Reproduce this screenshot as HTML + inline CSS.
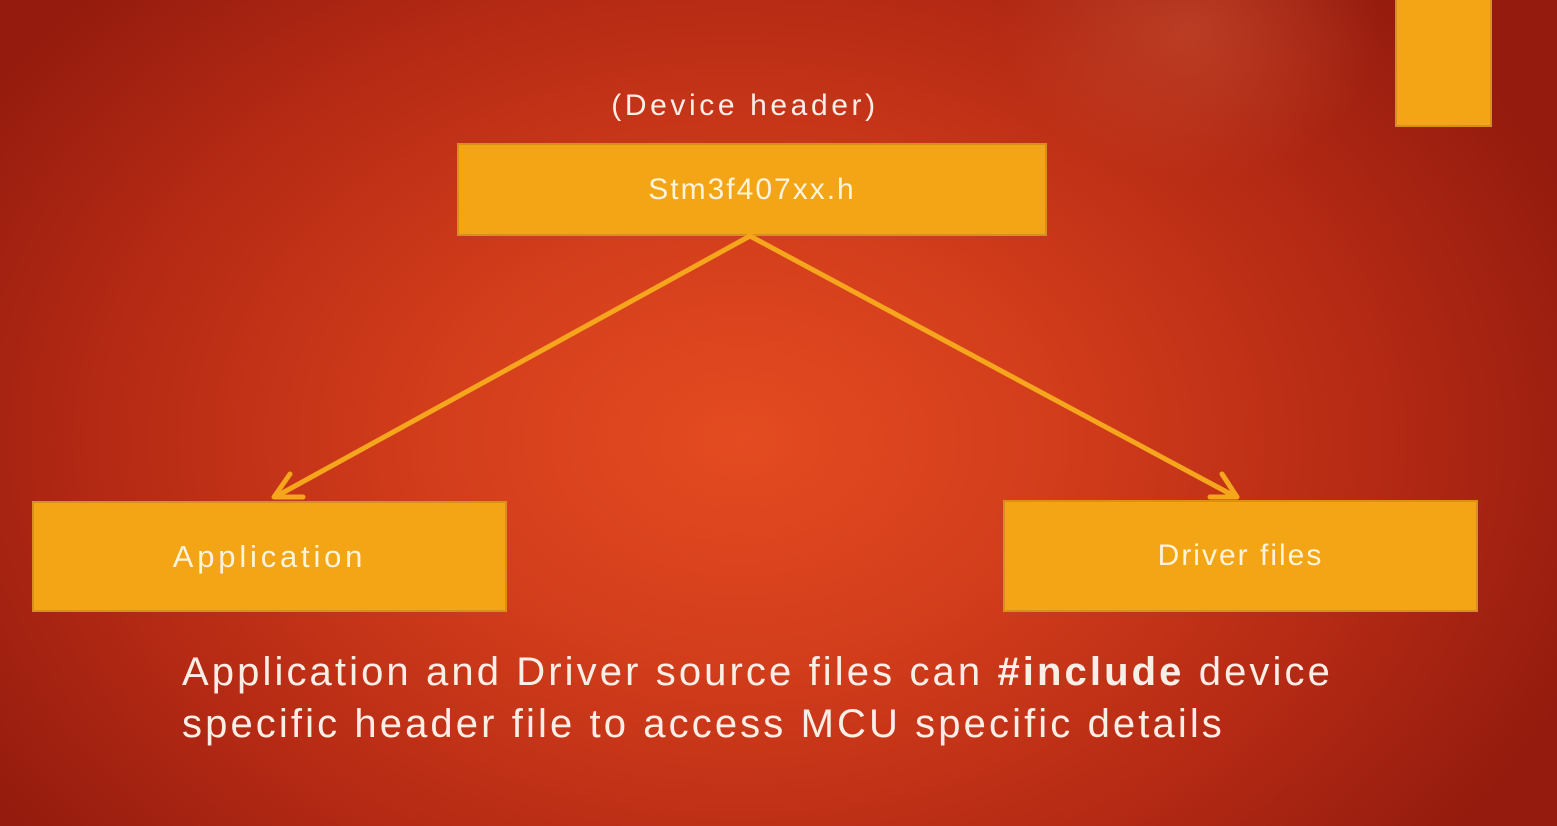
<!DOCTYPE html>
<html><head><meta charset="utf-8"><style>
html,body{margin:0;padding:0;}
body{width:1557px;height:826px;overflow:hidden;position:relative;font-family:"Liberation Sans",sans-serif;
background:radial-gradient(ellipse 900px 650px at 740px 440px,#e44b21 0%,#d23d1b 35%,#b52a14 70%,#941b0e 100%);}
.glow{position:absolute;left:1000px;top:-120px;width:380px;height:300px;border-radius:50%;background:radial-gradient(closest-side,rgba(200,80,50,.55),rgba(200,80,50,0));}
.box{position:absolute;background:#f3a516;border:2px solid #d9901a;box-sizing:border-box;color:#fff3dc;display:flex;align-items:center;justify-content:center;font-size:30px;letter-spacing:2px;}
.t{position:absolute;color:#fbeee6;}
</style></head><body>
<div class="glow"></div>
<div class="box" style="left:1395px;top:-2px;width:97px;height:129px;"></div>
<div class="t" style="left:545px;top:89px;width:400px;text-align:center;font-size:30px;letter-spacing:3.6px;">(Device header)</div>
<div class="box" style="left:457px;top:143px;width:590px;height:93px;">Stm3f407xx.h</div>
<svg width="1557" height="826" style="position:absolute;left:0;top:0">
<g stroke="#f6a61c" stroke-width="5" fill="none" stroke-linecap="round" stroke-linejoin="round">
<line x1="750" y1="236" x2="275" y2="497"/>
<line x1="750" y1="236" x2="1236" y2="497"/>
<polyline points="290,474 274,497 303,497"/>
<polyline points="1210,497 1237,497 1222,474"/>
</g></svg>
<div class="box" style="left:32px;top:501px;width:475px;height:111px;font-size:31px;letter-spacing:3.8px;">Application</div>
<div class="box" style="left:1003px;top:500px;width:475px;height:112px;">Driver files</div>
<div class="t" style="left:182px;top:646px;font-size:40px;line-height:52px;letter-spacing:3.1px;white-space:nowrap;">Application and Driver source files can <b>#include</b> device<br>specific header file to access MCU specific details</div>
</body></html>
